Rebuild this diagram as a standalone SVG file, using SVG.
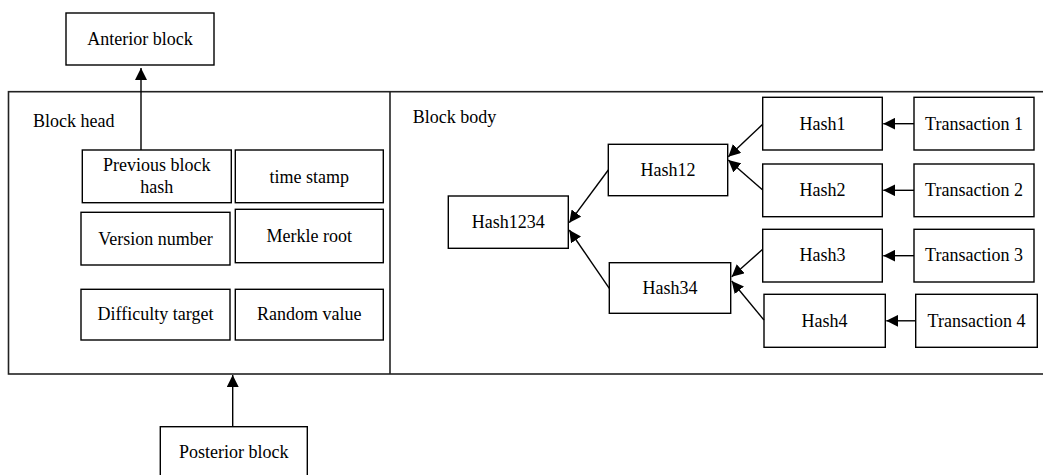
<svg xmlns="http://www.w3.org/2000/svg" width="1043" height="475" viewBox="0 0 1043 475">
<defs>
<style>
rect{fill:#fff;stroke:#000;stroke-width:1.4}
.frame{fill:none;stroke:#222;stroke-width:1.6}
text{font-family:"Liberation Serif","Times New Roman",serif;font-size:18px;fill:#000}
.c{text-anchor:middle}
.conn line{stroke:#000;stroke-width:1.4;marker-end:url(#ah)}
</style>
<marker id="ah" markerUnits="userSpaceOnUse" markerWidth="13" markerHeight="12" refX="12" refY="6" orient="auto">
<path d="M0,0 L12,6 L0,12 z" fill="#000"/>
</marker>
</defs>
<rect width="1043" height="475" style="fill:#fff;stroke:none"/>
<g id="frame">
<rect class="frame" x="8.5" y="91.7" width="1040" height="282.3"/>
<line class="frame" x1="390" y1="91.7" x2="390" y2="374"/>
<text x="33" y="127">Block head</text>
<text x="412.7" y="123.3">Block body</text>
</g>
<g id="anterior"><rect x="66" y="13" width="148" height="52"/><text class="c" x="140" y="45">Anterior block</text></g>
<g id="prevhash"><rect x="82.3" y="150" width="149" height="52.7"/><text class="c" x="156.8" y="170.7">Previous block</text><text class="c" x="156.8" y="193.3">hash</text></g>
<g id="timestamp"><rect x="235.3" y="150" width="148" height="52.7"/><text class="c" x="309.3" y="183.3">time stamp</text></g>
<g id="version"><rect x="81" y="212.3" width="149" height="52.7"/><text class="c" x="155.5" y="245">Version number</text></g>
<g id="merkle"><rect x="235.3" y="209.3" width="148" height="53.4"/><text class="c" x="309.3" y="241.7">Merkle root</text></g>
<g id="difficulty"><rect x="81" y="289.3" width="149" height="50.7"/><text class="c" x="155.5" y="320">Difficulty target</text></g>
<g id="random"><rect x="235.3" y="289.3" width="148" height="50.7"/><text class="c" x="309.3" y="320">Random value</text></g>
<g id="posterior"><rect x="160.3" y="426.7" width="147" height="60"/><text class="c" x="233.8" y="458.3">Posterior block</text></g>
<g id="hash1234"><rect x="448.3" y="196" width="120" height="52.3"/><text class="c" x="508.3" y="228.3">Hash1234</text></g>
<g id="hash12"><rect x="608.3" y="144.3" width="119.4" height="51.4"/><text class="c" x="668" y="176">Hash12</text></g>
<g id="hash34"><rect x="609.3" y="262.7" width="121.4" height="50.6"/><text class="c" x="670" y="294.3">Hash34</text></g>
<g id="hash1"><rect x="762.7" y="97.3" width="119.6" height="52.7"/><text class="c" x="822.5" y="130">Hash1</text></g>
<g id="hash2"><rect x="762.7" y="164" width="119.6" height="52.7"/><text class="c" x="822.5" y="196">Hash2</text></g>
<g id="hash3"><rect x="762.7" y="229.3" width="119.6" height="52.7"/><text class="c" x="822.5" y="261">Hash3</text></g>
<g id="hash4"><rect x="764" y="294.3" width="121.3" height="53"/><text class="c" x="824.6" y="326.7">Hash4</text></g>
<g id="tx1"><rect x="914" y="97.3" width="120" height="52.7"/><text class="c" x="974" y="130">Transaction 1</text></g>
<g id="tx2"><rect x="914" y="164" width="120" height="52.7"/><text class="c" x="974" y="196">Transaction 2</text></g>
<g id="tx3"><rect x="914" y="229.3" width="120" height="52.7"/><text class="c" x="974" y="261">Transaction 3</text></g>
<g id="tx4"><rect x="915.7" y="294.3" width="121.6" height="53"/><text class="c" x="976.5" y="326.7">Transaction 4</text></g>
<g id="connectors" class="conn">
<line x1="141" y1="150" x2="141" y2="68"/>
<line x1="232.7" y1="426.7" x2="232.7" y2="375"/>
<line x1="608.3" y1="170" x2="569.3" y2="222.7"/>
<line x1="609.3" y1="288.3" x2="569.3" y2="230"/>
<line x1="762.7" y1="124.3" x2="728.3" y2="156.7"/>
<line x1="762.7" y1="190" x2="728.3" y2="160"/>
<line x1="762.7" y1="249.3" x2="731.7" y2="276.7"/>
<line x1="764" y1="320" x2="731.7" y2="281"/>
<line x1="914" y1="123.7" x2="883.3" y2="123.7"/>
<line x1="914" y1="190.3" x2="883.3" y2="190.3"/>
<line x1="914" y1="255.7" x2="883.3" y2="255.7"/>
<line x1="915.7" y1="320.8" x2="886.3" y2="320.8"/>
</g>
</svg>
